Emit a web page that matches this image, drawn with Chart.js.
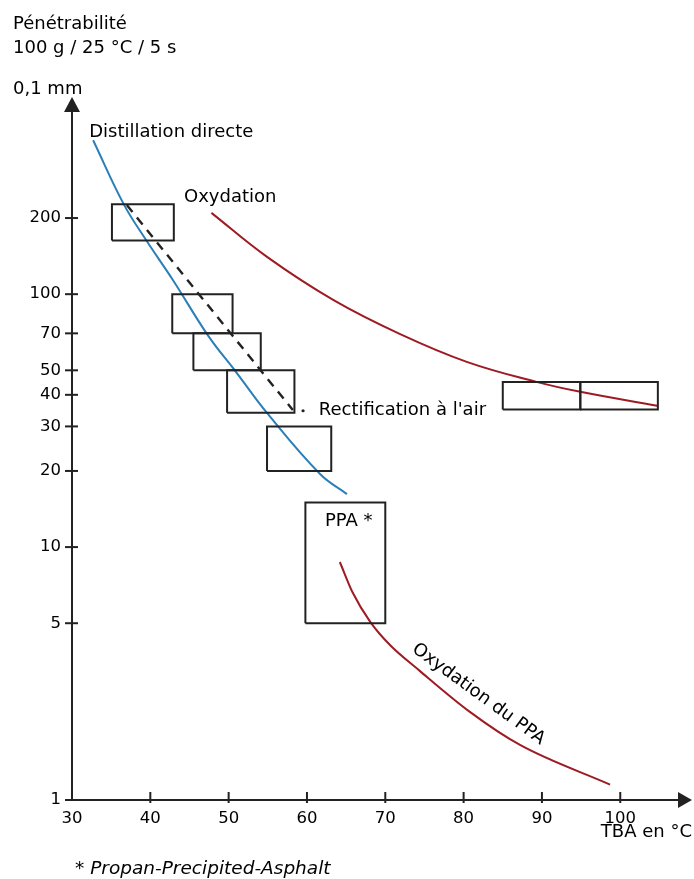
<!DOCTYPE html>
<html>
<head>
    <title>Pénétrabilité vs TBA</title>
    <script src="https://cdn.jsdelivr.net/npm/chart.js"></script>
    <style>
        body { margin: 0; background: #fff; }
        canvas { display: block; }
    </style>
</head>
<body>
    <canvas id="penChart" width="694" height="879"></canvas>

    <script>
        // tick labels
        const xTicks = [30, 40, 50, 60, 70, 80, 90, 100];
        const yTicks = [1, 5, 10, 20, 30, 40, 50, 70, 100, 200];

        // Distillation directe (blue)
        const distX = [32.7, 36.6, 39.5, 42.9, 47.4, 51.0, 55.0, 61.7, 65.1];
        const distY = [406, 227, 163, 113.6, 68.4, 49.0, 33.6, 19.4, 16.2];

        // Oxydation (red)
        const oxyX = [47.8, 54.9, 63.4, 71.9, 80.4, 89.3, 94.9, 104.7];
        const oxyY = [209.6, 140.4, 94.7, 69.5, 54.0, 45.0, 41.1, 36.2];

        // Oxydation du PPA (red)
        const ppaOxyX = [64.2, 65.8, 68.1, 70.6, 74.4, 80.8, 87.2, 98.7];
        const ppaOxyY = [8.73, 6.64, 5.05, 4.10, 3.24, 2.23, 1.65, 1.15];

        // Rectification à l'air (dashed)
        const rectX = [37.0, 58.2];
        const rectY = [225, 34.8];

        // boxes: [xMin, xMax, yMin, yMax]
        const boxes = [
            [35.1, 43.0, 163, 227],
            [42.8, 50.5, 70, 100],
            [45.5, 54.1, 50, 70],
            [49.8, 58.4, 34, 50],
            [54.9, 63.1, 20, 30],
            [59.8, 70.0, 5, 15],
            [85.0, 94.9, 35, 45],
            [94.9, 104.8, 35, 45]
        ];

        const FONT = '"DejaVu Sans", "Liberation Sans", Arial, sans-serif';
        const INK = '#222';

        function pts(xs, ys) {
            return xs.map((x, i) => ({ x: x, y: ys[i] }));
        }

        const datasets = [];
        boxes.forEach(b => {
            datasets.push({
                data: pts([b[0], b[1], b[1], b[0], b[0]], [b[2], b[2], b[3], b[3], b[2]]),
                borderColor: INK, borderWidth: 2, pointRadius: 0, tension: 0
            });
        });
        datasets.push({
            data: pts(rectX, rectY),
            borderColor: INK, borderWidth: 2.4, borderDash: [9, 7], pointRadius: 0
        });
        datasets.push({
            data: pts(distX, distY),
            borderColor: '#2b7fb8', borderWidth: 2, pointRadius: 0, tension: 0.4
        });
        datasets.push({
            data: pts(oxyX, oxyY),
            borderColor: '#9e1b24', borderWidth: 2, pointRadius: 0, tension: 0.4
        });
        datasets.push({
            data: pts(ppaOxyX, ppaOxyY),
            borderColor: '#9e1b24', borderWidth: 2, pointRadius: 0, cubicInterpolationMode: 'monotone'
        });

        // axes extras, arrows, labels
        const decor = {
            id: 'decor',
            afterDraw(chart) {
                const c = chart.ctx;
                const xs = chart.scales.x, ys = chart.scales.y;
                const a = chart.chartArea;
                const X = v => xs.getPixelForValue(v);
                const Y = v => ys.getPixelForValue(v);
                c.save();
                c.strokeStyle = INK; c.fillStyle = INK; c.lineWidth = 2;

                // tick marks
                yTicks.forEach(v => {
                    c.beginPath(); c.moveTo(a.left - 7, Y(v)); c.lineTo(a.left + 6, Y(v)); c.stroke();
                });
                xTicks.slice(1).forEach(v => {
                    c.beginPath(); c.moveTo(X(v), a.bottom - 8); c.lineTo(X(v), a.bottom + 3); c.stroke();
                });

                // arrows
                c.beginPath();
                c.moveTo(a.left, a.top - 14); c.lineTo(a.left - 8, a.top + 1); c.lineTo(a.left + 8, a.top + 1);
                c.closePath(); c.fill();
                c.beginPath();
                c.moveTo(a.right + 13, a.bottom); c.lineTo(a.right - 1, a.bottom - 8); c.lineTo(a.right - 1, a.bottom + 8);
                c.closePath(); c.fill();

                // dot at end of dashed line
                c.beginPath(); c.arc(X(59.5), Y(34.6), 1.6, 0, Math.PI * 2); c.fill();

                c.fillStyle = '#000';
                c.textBaseline = 'alphabetic';
                c.textAlign = 'left';
                c.font = '18px ' + FONT;
                c.fillText('Pénétrabilité', 13, 29);
                c.fillText('100 g / 25 °C / 5 s', 13, 53);
                c.fillText('0,1 mm', 13, 94);
                c.fillText('Distillation directe', X(32.2), Y(417.6));
                c.fillText('Oxydation', X(44.3), Y(231.6));
                c.fillText('Rectification à l\'air', X(61.5), Y(33.2));
                c.fillText('PPA *', X(62.3), Y(12.1));
                c.textAlign = 'right';
                c.fillText('TBA en °C', 692, 837);
                c.textAlign = 'left';
                c.font = 'italic 18.5px ' + FONT;
                c.fillText('* Propan-Precipited-Asphalt', 75, 874);

                // rotated label along PPA oxidation curve
                c.font = '18px ' + FONT;
                c.translate(X(81.9), Y(2.62));
                c.rotate(36 * Math.PI / 180);
                c.textAlign = 'center';
                c.textBaseline = 'middle';
                c.fillText('Oxydation du PPA', 0, 0);
                c.restore();
            }
        };

        new Chart(document.getElementById('penChart'), {
            type: 'line',
            data: { datasets: datasets },
            options: {
                responsive: false,
                animation: false,
                layout: { padding: { top: 111, right: 15, left: 0, bottom: 0 } },
                plugins: { legend: { display: false }, tooltip: { enabled: false } },
                scales: {
                    x: {
                        type: 'linear', min: 30, max: 107.5,
                        afterBuildTicks: s => { s.ticks = xTicks.map(v => ({ value: v })); },
                        afterFit: s => { s.height = 79; },
                        grid: { display: false },
                        border: { color: INK, width: 2 },
                        ticks: { color: '#000', padding: 1, font: { family: FONT, size: 16.5 }, maxRotation: 0 }
                    },
                    y: {
                        type: 'logarithmic', min: 1, max: 530,
                        afterBuildTicks: s => { s.ticks = yTicks.map(v => ({ value: v })); },
                        afterFit: s => { s.width = 72; },
                        grid: { display: false },
                        border: { color: INK, width: 2 },
                        ticks: {
                            color: '#000', padding: 3, font: { family: FONT, size: 16.5 },
                            callback: v => String(v)
                        }
                    }
                }
            },
            plugins: [decor]
        });
    </script>
</body>
</html>
